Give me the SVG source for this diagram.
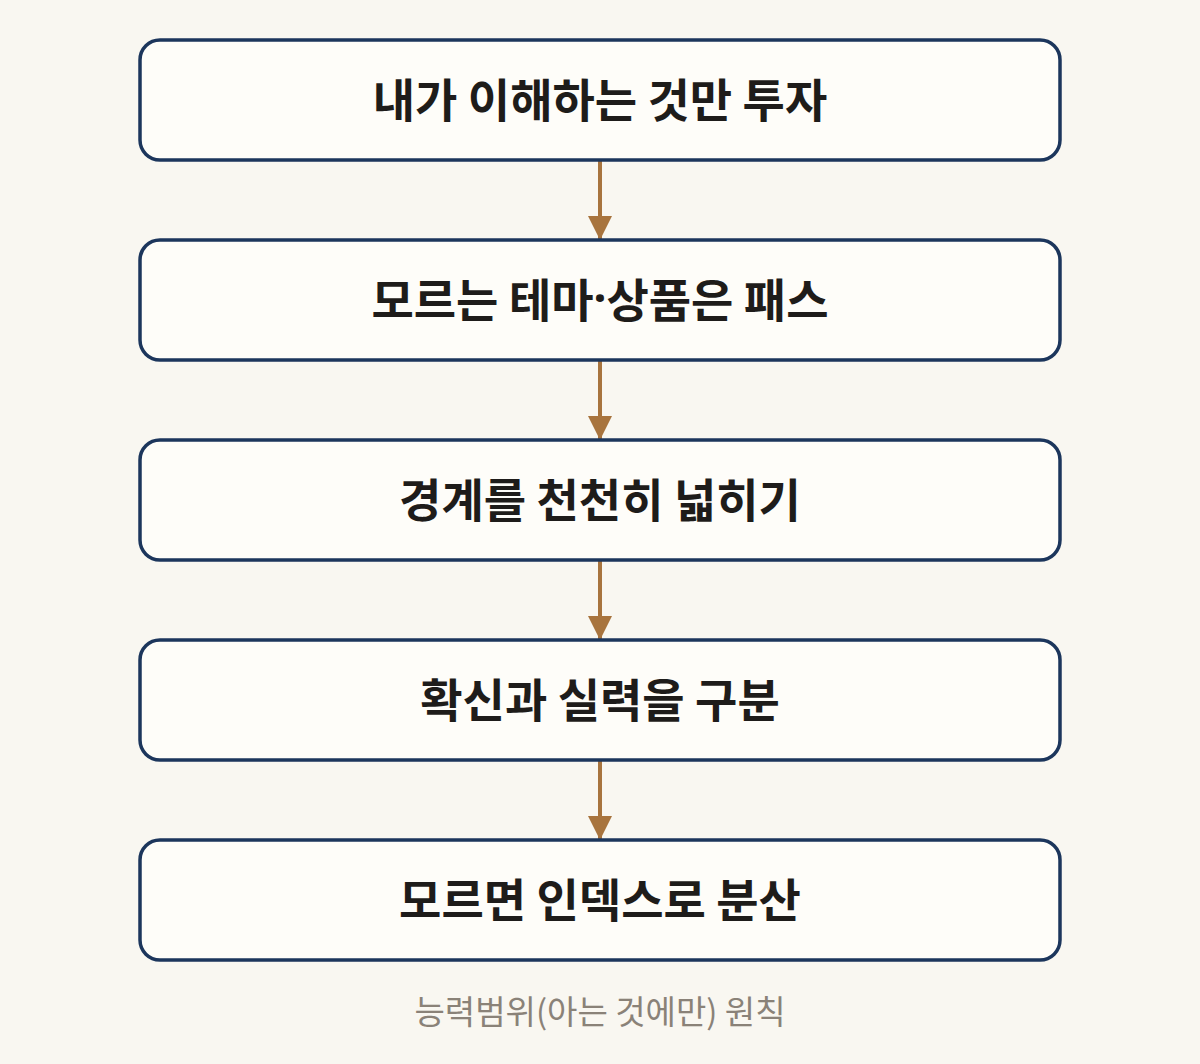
<svg xmlns="http://www.w3.org/2000/svg" width="1200" height="1064" viewBox="0 0 1200 1064">
<defs>
<style>
.box{fill:#FEFDF9;stroke:#1C365C;stroke-width:3.5}
.lbl{font-family:"Noto Sans CJK KR","Noto Sans",sans-serif;font-weight:700;font-size:46px;fill:#1E1C1A;text-anchor:middle;dominant-baseline:central}
.dot{font-family:"Noto Sans",sans-serif}
.cap{font-family:"Noto Sans CJK KR","Noto Sans",sans-serif;font-size:33px;fill:#8A8278;text-anchor:middle;dominant-baseline:central}
.edge{stroke:#A8743E;stroke-width:4;fill:none;marker-end:url(#ah)}
</style>
<marker id="ah" markerUnits="userSpaceOnUse" markerWidth="28" markerHeight="24" refX="26" refY="13" orient="auto" viewBox="0 0 28 26">
<path d="M0,0 L26,13 L0,26 Z" fill="#A8743E"/>
</marker>
</defs>
<rect width="1200" height="1064" fill="#F9F7F1"/>
<g id="connectors">
<line class="edge" x1="600" y1="160" x2="600" y2="240"/>
<line class="edge" x1="600" y1="360" x2="600" y2="440"/>
<line class="edge" x1="600" y1="560" x2="600" y2="640"/>
<line class="edge" x1="600" y1="760" x2="600" y2="840"/>
</g>
<g id="n1"><rect class="box" x="140" y="40" width="920" height="120" rx="20"/><text class="lbl" x="600" y="97">내가 이해하는 것만 투자</text></g>
<g id="n2"><rect class="box" x="140" y="240" width="920" height="120" rx="20"/><text class="lbl" x="600" y="297">모르는 테마<tspan class="dot">·</tspan>상품은 패스</text></g>
<g id="n3"><rect class="box" x="140" y="440" width="920" height="120" rx="20"/><text class="lbl" x="600" y="497">경계를 천천히 넓히기</text></g>
<g id="n4"><rect class="box" x="140" y="640" width="920" height="120" rx="20"/><text class="lbl" x="600" y="697">확신과 실력을 구분</text></g>
<g id="n5"><rect class="box" x="140" y="840" width="920" height="120" rx="20"/><text class="lbl" x="600" y="897">모르면 인덱스로 분산</text></g>
<text class="cap" x="600" y="1010">능력범위(아는 것에만) 원칙</text>
</svg>
